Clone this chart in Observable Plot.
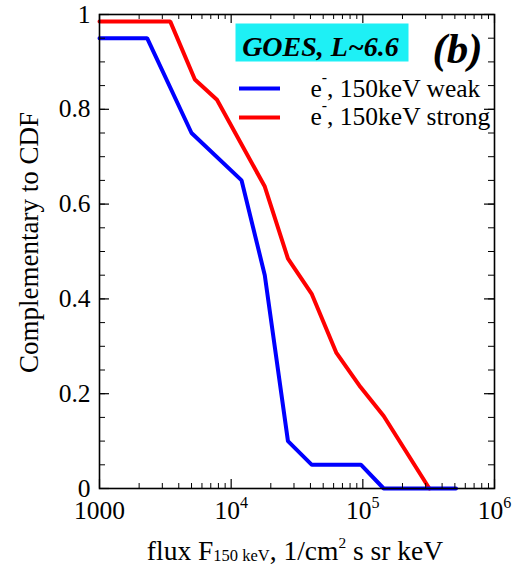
<!DOCTYPE html>
<html>
<head>
<meta charset="utf-8">
<script src="https://cdn.jsdelivr.net/npm/d3@7"></script>
<script src="https://cdn.jsdelivr.net/npm/@observablehq/plot@0.6"></script>
<style>
  html, body { margin: 0; padding: 0; background: #fff; }
</style>
</head>
<body>
<div id="chart"></div>
<script>
// Complementary CDF of 150 keV electron flux at GOES (L~6.6)
const weakFlux   = [1000, 2300, 5000, 12000, 18000, 27000, 41000, 97000, 144000, 510000];
const weakCcdf   = [0.95, 0.95, 0.75, 0.65, 0.45, 0.10, 0.05, 0.05, 0, 0];
const strongFlux = [1000, 3450, 5300, 7800, 18000, 27000, 41000, 63000, 96000, 144000, 320000];
const strongCcdf = [0.985, 0.985, 0.863, 0.82, 0.637, 0.485, 0.41, 0.286, 0.214, 0.153, 0];

const seriesNames  = ["e^{-}, 150keV weak", "e^{-}, 150keV strong"];
const seriesColors = ["#0000ff", "#ff0000"];

const xTickValues = [1000, 1e4, 1e5, 1e6];
const xTickLabels = ["1000", "10^{4}", "10^{5}", "10^{6}"];
const yTickValues = [0, 0.2, 0.4, 0.6, 0.8, 1];
const yTickLabels = ["0", "0.2", "0.4", "0.6", "0.8", "1"];

const xTitle = "flux F_{150 keV}, 1/cm^{2} s sr keV";
const yTitle = "Complementary to CDF";
const boxTitle = "GOES, L~6.6";
const panelTag = "(b)";

// minor ticks: 2..9 within each decade, every 0.05 on y
const xMinor = [];
for (const dec of [1e3, 1e4, 1e5]) for (let k = 2; k <= 9; k++) xMinor.push(k * dec);
const yMinor = d3.range(0, 1.0001, 0.05).map(v => +v.toFixed(2));

const W = 518, H = 575;
const mt = 14, mr = 24, mb = 87, ml = 99;
const pw = W - ml - mr, ph = H - mt - mb;

const rows = (xs, ys) => xs.map((x, i) => ({flux: x, p: ys[i]}));

const font = "Liberation Serif";
const txt = (extra) => ({fontFamily: font, fill: "#000", ...extra});

const tickFs = 25.5, xTitleFs = 27.5, yTitleFs = 27, legendFs = 25.5;

const chart = Plot.plot({
  width: W, height: H,
  marginTop: mt, marginRight: mr, marginBottom: mb, marginLeft: ml,
  x: {type: "log", domain: [1000, 1e6], axis: null},
  y: {domain: [0, 1], axis: null},
  marks: [
    // title box
    Plot.frame({fill: "#1ef0f5", stroke: null, insetLeft: 136, insetRight: 86, insetTop: 9, insetBottom: 427}),
    // data
    Plot.line(rows(strongFlux, strongCcdf), {x: "flux", y: "p", stroke: seriesColors[1], strokeWidth: 4, strokeLinejoin: "miter"}),
    Plot.line(rows(weakFlux, weakCcdf), {x: "flux", y: "p", stroke: seriesColors[0], strokeWidth: 4, strokeLinejoin: "miter"}),
    // frame
    Plot.frame({stroke: "#000", strokeWidth: 1.6}),
    // inward ticks, bottom and top
    Plot.tickX(xTickValues, {x: d => d, insetTop: ph - 9, stroke: "#000", strokeWidth: 1.2}),
    Plot.tickX(xTickValues, {x: d => d, insetBottom: ph - 9, stroke: "#000", strokeWidth: 1.2}),
    Plot.tickX(xMinor, {x: d => d, insetTop: ph - 5, stroke: "#000", strokeWidth: 1}),
    Plot.tickX(xMinor, {x: d => d, insetBottom: ph - 5, stroke: "#000", strokeWidth: 1}),
    // inward ticks, left and right
    Plot.tickY(yTickValues, {y: d => d, insetRight: pw - 10, stroke: "#000", strokeWidth: 1.2}),
    Plot.tickY(yTickValues, {y: d => d, insetLeft: pw - 10, stroke: "#000", strokeWidth: 1.2}),
    Plot.tickY(yMinor, {y: d => d, insetRight: pw - 6, stroke: "#000", strokeWidth: 1}),
    Plot.tickY(yMinor, {y: d => d, insetLeft: pw - 6, stroke: "#000", strokeWidth: 1}),
    // tick labels
    Plot.text(xTickValues, txt({x: d => d, text: (d, i) => xTickLabels[i], frameAnchor: "bottom",
      dy: 22, textAnchor: "middle", lineAnchor: "middle", fontSize: tickFs})),
    Plot.text(yTickValues, txt({y: d => d, text: (d, i) => yTickLabels[i], frameAnchor: "left",
      dx: -9, textAnchor: "end", lineAnchor: "middle", fontSize: tickFs})),
    // axis titles
    Plot.text([xTitle], txt({frameAnchor: "bottom", dx: -2, dy: 63, textAnchor: "middle", lineAnchor: "middle", fontSize: xTitleFs})),
    Plot.text([yTitle], txt({frameAnchor: "left", rotate: -90, dx: -70, dy: -9, textAnchor: "middle",
      lineAnchor: "middle", fontSize: yTitleFs})),
    // title box text and panel tag
    Plot.text([boxTitle], txt({frameAnchor: "top-left", dx: 221, dy: 32.7, textAnchor: "middle", lineAnchor: "middle",
      fontSize: 28, fontWeight: "bold", fontStyle: "italic"})),
    Plot.text([panelTag], txt({frameAnchor: "top-left", dx: 358, dy: 35, textAnchor: "middle", lineAnchor: "middle",
      fontSize: 43, fontWeight: "bold", fontStyle: "italic"})),
    // legend
    Plot.tickY([1], {y: d => d, dy: 74, insetLeft: 140, insetRight: 214, stroke: seriesColors[0], strokeWidth: 4}),
    Plot.tickY([1], {y: d => d, dy: 103, insetLeft: 140, insetRight: 214, stroke: seriesColors[1], strokeWidth: 4}),
    Plot.text([seriesNames[0]], txt({frameAnchor: "top-left", dx: 211, dy: 74, textAnchor: "start", lineAnchor: "middle", fontSize: legendFs})),
    Plot.text([seriesNames[1]], txt({frameAnchor: "top-left", dx: 211, dy: 102.5, textAnchor: "start", lineAnchor: "middle", fontSize: legendFs}))
  ]
});

document.getElementById("chart").appendChild(chart);

// Turn ^{..} and _{..} markup into raised / lowered tspans
function richText(textEl, base, {supRaise = 0.45, supSize = 0.62, subDrop = 0.05, subSize = 0.62} = {}) {
  const s = textEl.textContent;
  const parts = s.split(/([\^_]\{[^}]*\})/).filter(p => p.length);
  textEl.textContent = "";
  let shift = 0;
  for (const p of parts) {
    const ts = document.createElementNS("http://www.w3.org/2000/svg", "tspan");
    let target = 0, t = p, size = null;
    if (p.startsWith("^{")) { target = -supRaise * base; t = p.slice(2, -1); size = supSize * base; }
    else if (p.startsWith("_{")) { target = subDrop * base; t = p.slice(2, -1); size = subSize * base; }
    ts.setAttribute("dy", (target - shift).toFixed(2));
    shift = target;
    if (size) ts.setAttribute("font-size", size.toFixed(1));
    ts.textContent = t;
    textEl.appendChild(ts);
  }
}

chart.querySelectorAll("text").forEach(t => {
  const s = t.textContent;
  if (!/[\^_]\{/.test(s)) return;
  if (s.startsWith("10^")) richText(t, tickFs, {supRaise: 0.4, supSize: 0.63});
  else if (s.startsWith("flux")) richText(t, xTitleFs, {supRaise: 0.46, supSize: 0.56, subDrop: 0.04, subSize: 0.6});
  else richText(t, legendFs, {supRaise: 0.55, supSize: 0.62});
});
</script>
</body>
</html>
